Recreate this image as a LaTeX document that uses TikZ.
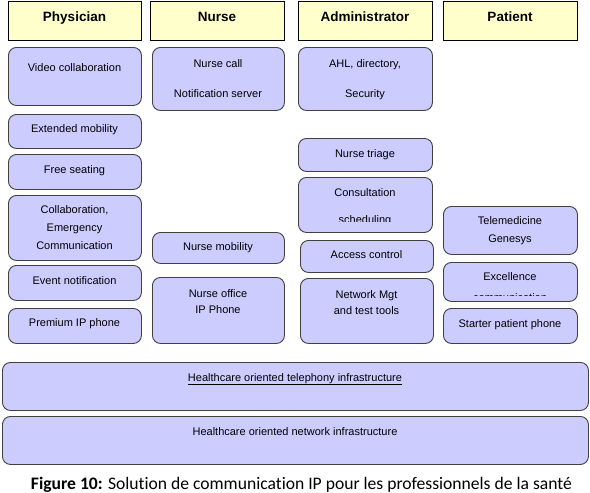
\documentclass[tikz,border=0pt]{standalone}
\usepackage{fontspec}
\setmainfont{Liberation Sans}
\newfontfamily\capfont[Ligatures={NoCommon}]{Carlito}
\begin{document}
\begin{tikzpicture}[x=1pt,y=-1pt,
  hdr/.style={draw=black,line width=0.9pt,fill=hdrfill,anchor=north west,inner sep=0pt},
  box/.style={draw=black!75,line width=0.9pt,fill=boxfill,rounded corners=8pt,anchor=north west,inner sep=0pt},
  lbl/.style={anchor=base,inner sep=0pt,font=\fontsize{11}{13}\selectfont},
  hlbl/.style={anchor=base,inner sep=0pt,font=\fontsize{13.5}{15}\selectfont\bfseries}]
\definecolor{hdrfill}{HTML}{FFFFCC}
\definecolor{boxfill}{HTML}{CCCCFF}
\useasboundingbox (0,0) rectangle (590,493);
% headers
\node[hdr,minimum width=133pt,minimum height=39pt] (hphy) at (8,1) {};
\node[hdr,minimum width=134pt,minimum height=39pt] (hnur) at (150,1) {};
\node[hdr,minimum width=134pt,minimum height=39pt] (hadm) at (298,1) {};
\node[hdr,minimum width=134pt,minimum height=39pt] (hpat) at (443,1) {};
\node[hlbl] (thphy) at (74.5,21) {Physician};
\node[hlbl] (thnur) at (217,21) {Nurse};
\node[hlbl] (thadm) at (365,21) {Administrator};
\node[hlbl] (thpat) at (510,21) {Patient};
% physician column
\node[box,minimum width=133pt,minimum height=58pt] (vc) at (8,47) {};
\node[lbl] (tvc) at (74.5,71) {Video collaboration};
\node[box,minimum width=133pt,minimum height=34pt] (em) at (8,114) {};
\node[lbl] (tem) at (74.5,132) {Extended mobility};
\node[box,minimum width=133pt,minimum height=35pt] (fs) at (8,154) {};
\node[lbl] (tfs) at (74.5,173) {Free seating};
\node[box,minimum width=133pt,minimum height=65pt] (ce) at (8,195) {};
\node[lbl] (tce1) at (74.5,213) {Collaboration,};
\node[lbl] (tce2) at (74.5,231) {Emergency};
\node[lbl] (tce3) at (74.5,249) {Communication};
\node[box,minimum width=133pt,minimum height=35pt] (en) at (8,265) {};
\node[lbl] (ten) at (74.5,284) {Event notification};
\node[box,minimum width=133pt,minimum height=35pt] (pp) at (8,308) {};
\node[lbl] (tpp) at (74.5,326) {Premium IP phone};
% nurse column
\node[box,minimum width=132pt,minimum height=63pt] (nc) at (152,47) {};
\node[lbl] (tnc1) at (218,67) {Nurse call};
\node[lbl] (tnc2) at (218,97) {Notification server};
\node[box,minimum width=132pt,minimum height=31pt] (nm) at (152,232) {};
\node[lbl] (tnm) at (218,250) {Nurse mobility};
\node[box,minimum width=132pt,minimum height=66pt] (no) at (152,277) {};
\node[lbl] (tno1) at (218,297) {Nurse office};
\node[lbl] (tno2) at (218,313) {IP Phone};
% administrator column
\node[box,minimum width=134pt,minimum height=63pt] (ahl) at (298,47) {};
\node[lbl] (tahl1) at (365,67) {AHL, directory,};
\node[lbl] (tahl2) at (365,97) {Security};
\node[box,minimum width=134pt,minimum height=33pt] (nt) at (298,138) {};
\node[lbl] (tnt) at (365,157) {Nurse triage};
\node[box,minimum width=134pt,minimum height=55pt] (cs) at (298,177) {};
\node[lbl] (tcs1) at (365,196) {Consultation};
\begin{scope}
\clip (298,177) rectangle (432,221.5);
\node[lbl] (tcs2) at (365,223.5) {scheduling};
\end{scope}
\node[box,minimum width=133pt,minimum height=32pt] (ac) at (300,240) {};
\node[lbl] (tac) at (366.5,258) {Access control};
\node[box,minimum width=133pt,minimum height=65pt] (nw) at (300,278) {};
\node[lbl] (tnw1) at (366.5,298) {Network Mgt};
\node[lbl] (tnw2) at (366.5,314) {and test tools};
% patient column
\node[box,minimum width=134pt,minimum height=48pt] (tm) at (443,206) {};
\node[lbl] (ttm1) at (510,224) {Telemedicine};
\node[lbl] (ttm2) at (510,242) {Genesys};
\node[box,minimum width=134pt,minimum height=39pt] (ex) at (443,262) {};
\node[lbl] (tex1) at (510,280) {Excellence};
\begin{scope}
\clip (443,262) rectangle (577,295.5);
\node[lbl] (tex2) at (510,301) {communication};
\end{scope}
\node[box,minimum width=134pt,minimum height=35pt] (sp) at (443,308) {};
\node[lbl] (tsp) at (510,327) {Starter patient phone};
% infrastructure
\node[box,minimum width=586pt,minimum height=48pt] (tel) at (2,362) {};
\node[lbl] (ttel) at (295,381) {\underline{Healthcare oriented telephony infrastructure}};
\node[box,minimum width=586pt,minimum height=48pt] (net) at (2,416) {};
\node[lbl] (tnet) at (295,435) {Healthcare oriented network infrastructure};
% caption
\node[anchor=base,inner sep=0pt,font=\capfont\fontsize{17.6}{20}\selectfont] (cap) at (301.5,489)
  {\textbf{Figure 10:} Solution de communication IP pour les professionnels de la santé};
\end{tikzpicture}
\end{document}
